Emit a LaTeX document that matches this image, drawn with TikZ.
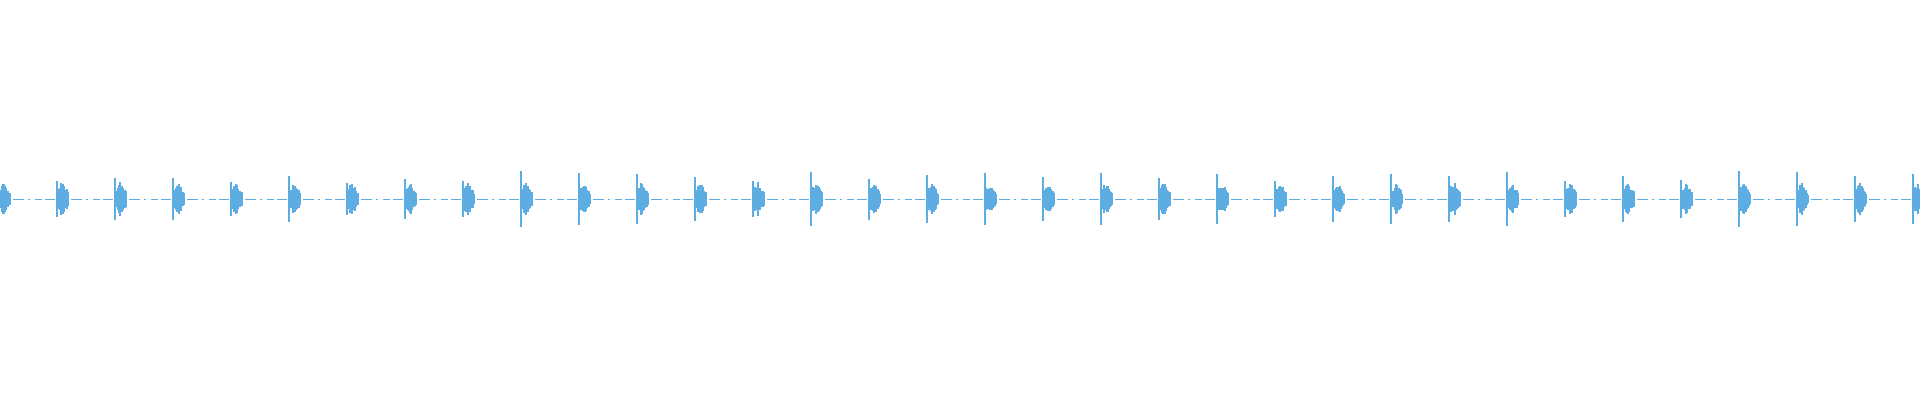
\documentclass[tikz,border=0pt]{standalone}
\definecolor{wave}{RGB}{93,173,226}
\tikzset{
  burst/.style={wave, line width=1.1pt},
  quiet/.style={wave, line width=0.9pt, dash pattern=on 11pt off 4pt on 2pt off 5pt on 7pt off 3pt}
}
\begin{document}
\begin{tikzpicture}[x=1pt,y=-1pt]
\useasboundingbox (0,0) rectangle (1920,400);
\pgfmathsetseed{7}
% bursts along the base line
\foreach \k in {0,...,33} {
  \pgfmathsetmacro\xa{58*\k-1}
  \pgfmathsetmacro\hs{16+12*rnd}
  \draw[burst] (\xa,199-\hs) -- (\xa,199+\hs);
  \foreach \i in {1,...,11} {
    \pgfmathsetmacro\xi{\xa+\i}
    \pgfmathsetmacro\hi{(10+6*rnd)*(1-abs(\i-5)/10)+2*rnd}
    \draw[burst] (\xi,199-\hi) -- (\xi,199+\hi);
  }
  % quiet stretch between bursts
  \draw[quiet] (\xa+14,199) -- (\xa+56,199);
}
\end{tikzpicture}
\end{document}
